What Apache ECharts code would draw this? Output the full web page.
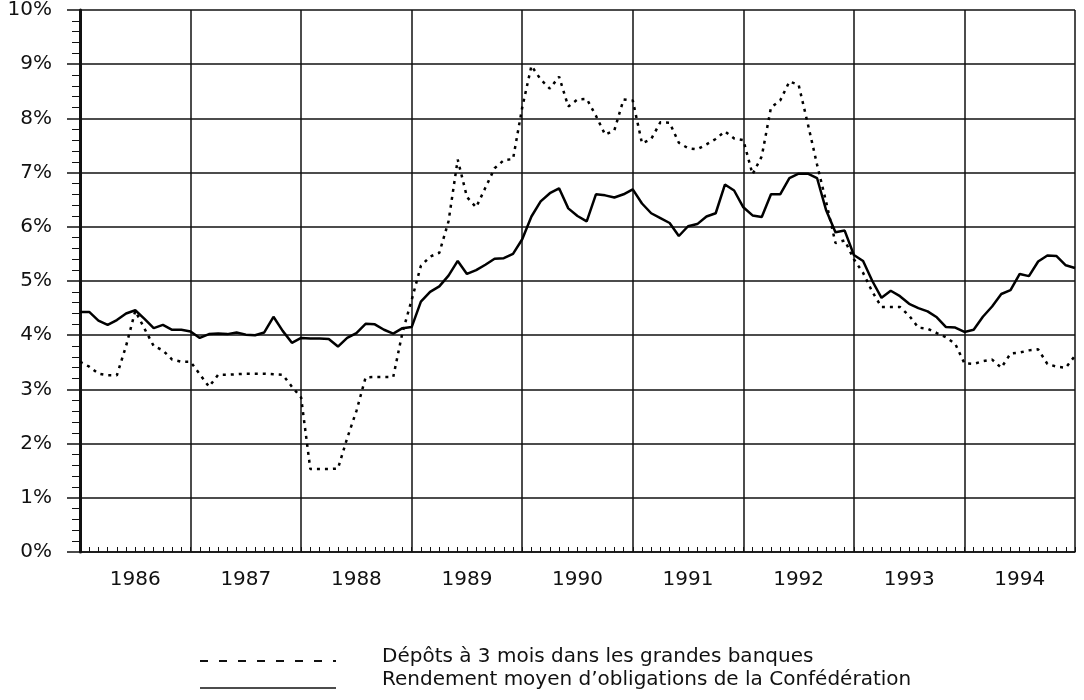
<!DOCTYPE html>
<html lang="fr">
<head>
<meta charset="UTF-8">
<title>Taux d'intérêt</title>
<script src="https://cdn.jsdelivr.net/npm/echarts@6/dist/echarts.min.js"></script>
<style>
  html, body { margin: 0; padding: 0; background: #fff; }
  #main { width: 1084px; height: 700px; }
</style>
</head>
<body>
<div id="main"></div>
<script>
// années affichées sous l'axe
var years = ['1986', '1987', '1988', '1989', '1990', '1991', '1992', '1993', '1994'];

// mois de janvier 1986 à janvier 1995 (109 points)
var months = [];
for (var y = 1986; y <= 1994; y++) {
    for (var m = 1; m <= 12; m++) months.push(y + '-' + (m < 10 ? '0' + m : m));
}
months.push('1995-01');

var nomDepots = 'Dépôts à 3 mois dans les grandes banques';
var nomRendement = 'Rendement moyen d’obligations de la Confédération';

// Dépôts à 3 mois dans les grandes banques (%)
var depots = [
    3.51, 3.42, 3.29, 3.26, 3.26, 3.80, 4.45, 4.12, 3.80, 3.72, 3.55, 3.51,
    3.51, 3.28, 3.05, 3.27, 3.27, 3.28, 3.29, 3.29, 3.29, 3.28, 3.27, 3.05,
    2.85, 1.53, 1.53, 1.53, 1.54, 2.10, 2.60, 3.22, 3.23, 3.23, 3.23, 4.05,
    4.65, 5.28, 5.45, 5.52, 6.10, 7.24, 6.55, 6.36, 6.72, 7.08, 7.23, 7.25,
    8.20, 8.97, 8.72, 8.55, 8.77, 8.22, 8.35, 8.36, 8.05, 7.70, 7.78, 8.35,
    8.33, 7.54, 7.62, 7.93, 7.92, 7.55, 7.45, 7.43, 7.52, 7.62, 7.76, 7.63,
    7.60, 6.97, 7.30, 8.20, 8.33, 8.68, 8.62, 7.90, 7.15, 6.45, 5.70, 5.75,
    5.40, 5.15, 4.80, 4.52, 4.52, 4.52, 4.36, 4.14, 4.12, 4.04, 3.96, 3.84,
    3.48, 3.47, 3.52, 3.55, 3.40, 3.66, 3.68, 3.72, 3.74, 3.47, 3.42, 3.40,
    3.62
];

// Rendement moyen d'obligations de la Confédération (%)
var rendement = [
    4.43, 4.43, 4.27, 4.19, 4.28, 4.40, 4.46, 4.30, 4.13, 4.19, 4.10, 4.10,
    4.07, 3.95, 4.02, 4.03, 4.02, 4.05, 4.01, 4.00, 4.05, 4.34, 4.08, 3.86,
    3.95, 3.94, 3.94, 3.93, 3.79, 3.95, 4.04, 4.21, 4.20, 4.10, 4.03, 4.13,
    4.15, 4.62, 4.80, 4.90, 5.10, 5.37, 5.13, 5.20, 5.30, 5.41, 5.42, 5.50,
    5.77, 6.19, 6.47, 6.62, 6.71, 6.34, 6.20, 6.10, 6.60, 6.58, 6.54, 6.60,
    6.69, 6.43, 6.25, 6.16, 6.07, 5.83, 6.01, 6.05, 6.19, 6.25, 6.78, 6.67,
    6.36, 6.21, 6.18, 6.60, 6.60, 6.90, 6.98, 6.98, 6.90, 6.30, 5.90, 5.93,
    5.48, 5.37, 5.00, 4.69, 4.82, 4.72, 4.58, 4.50, 4.44, 4.33, 4.15, 4.14,
    4.06, 4.10, 4.34, 4.53, 4.76, 4.83, 5.13, 5.09, 5.36, 5.47, 5.46, 5.29,
    5.24
];

var myChart = echarts.init(document.getElementById('main'));
var font = '"DejaVu Sans", sans-serif';

myChart.setOption({
    animation: false,
    backgroundColor: '#fff',
    grid: { left: 80, right: 9, top: 8, bottom: 148 },
    // légende dessinée à la main, comme dans l'original
    graphic: [
        { type: 'line', shape: { x1: 200, y1: 661, x2: 336, y2: 661 },
          style: { stroke: '#111', lineWidth: 2, lineDash: [8, 11] } },
        { type: 'text', left: 382, top: 647,
          style: { text: nomDepots, fill: '#111', font: '20px ' + font } },
        { type: 'line', shape: { x1: 200, y1: 688, x2: 336, y2: 688 },
          style: { stroke: '#111', lineWidth: 1.5 } },
        { type: 'text', left: 382, top: 670,
          style: { text: nomRendement, fill: '#111', font: '20px ' + font } }
    ],
    xAxis: [{
        type: 'category',
        data: months,
        boundaryGap: false,
        axisLine: { show: true, lineStyle: { color: '#111', width: 1.5 } },
        axisTick: { show: true, inside: true, interval: 0, length: 5, lineStyle: { color: '#111', width: 1 } },
        axisLabel: { show: false },
        splitLine: {
            show: true,
            interval: function (index) { return index % 12 === 0; },
            lineStyle: { color: '#111', width: 1.5 }
        }
    }, {
        type: 'category',
        data: years,
        position: 'bottom',
        boundaryGap: true,
        axisLine: { show: false },
        axisTick: { show: false },
        splitLine: { show: false },
        axisLabel: { color: '#111', fontSize: 20, fontFamily: font, margin: 18 }
    }],
    yAxis: {
        type: 'value',
        min: 0,
        max: 10,
        interval: 1,
        axisLine: { show: true, lineStyle: { color: '#111', width: 3 } },
        axisTick: { show: true, length: 13, lineStyle: { color: '#111', width: 1.5 } },
        minorTick: { show: true, splitNumber: 5, length: 8, lineStyle: { color: '#111', width: 1 } },
        axisLabel: { color: '#111', fontSize: 20, fontFamily: font, margin: 28, formatter: '{value}%' },
        splitLine: { show: true, lineStyle: { color: '#111', width: 1.5 } }
    },
    series: [{
        name: nomDepots,
        type: 'line',
        data: depots,
        symbol: 'none',
        lineStyle: { color: '#000', width: 2.5, type: [3, 5] },
        itemStyle: { color: '#000' }
    }, {
        name: nomRendement,
        type: 'line',
        data: rendement,
        symbol: 'none',
        lineStyle: { color: '#000', width: 2.5 },
        itemStyle: { color: '#000' }
    }]
});

window.addEventListener('resize', function () {
    myChart.resize();
});
</script>
</body>
</html>
